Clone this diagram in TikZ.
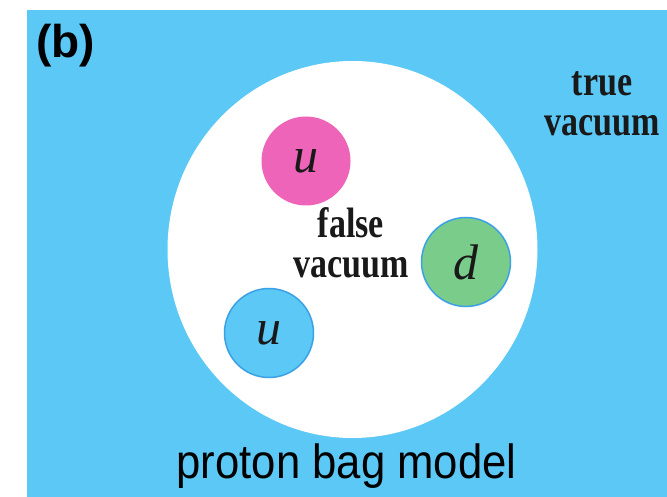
\documentclass[tikz,border=0pt]{standalone}
\usepackage{fontspec}
\setmainfont{Liberation Serif}
\setsansfont{Liberation Sans}
\usetikzlibrary{shapes.geometric}
\definecolor{bgblue}{RGB}{91,200,245}
\definecolor{qpink}{RGB}{238,100,185}
\definecolor{qgreen}{RGB}{122,204,138}
\definecolor{qedge}{RGB}{60,160,230}
\definecolor{ink}{RGB}{25,25,25}
\tikzset{
  quark/.style={circle, inner sep=0pt, minimum size=89pt, text=ink,
    font=\fontsize{50}{50}\selectfont\itshape},
  vaclabel/.style={anchor=base, inner sep=0pt, text=ink,
    font=\fontsize{34}{32}\selectfont\bfseries},
  sanslabel/.style={anchor=base, inner sep=0pt, text=black}
}
\begin{document}
\begin{tikzpicture}[x=1pt,y=-1pt]
\useasboundingbox (0,0) rectangle (667,497);
% true vacuum background
\fill[bgblue] (27,10) rectangle (667,497);
% the bag (false vacuum)
\node[ellipse, fill=white, inner sep=0pt, minimum width=370pt, minimum height=377pt] (bag) at (352.5,249.5) {};
% quarks
\node[quark, fill=qpink] (u1) at (306,161) {u\/};
\node[quark, fill=qgreen, draw=qedge, line width=1.5pt] (d1) at (466,262) {d\/};
\node[quark, fill=bgblue, draw=qedge, line width=1.5pt] (u2) at (269,333) {u\/};
% labels
\node[vaclabel] (falsevac) at (351,277) {\scalebox{1}[1.25]{\begin{tabular}[b]{@{}c@{}}false\\vacuum\end{tabular}}};
\node[vaclabel] (truevac) at (602,136) {\scalebox{1}[1.25]{\begin{tabular}[b]{@{}c@{}}true\\vacuum\end{tabular}}};
\node[sanslabel, font=\sffamily\bfseries\fontsize{46}{46}\selectfont] (panel) at (65.5,58) {(b)};
\node[sanslabel, font=\sffamily\fontsize{48}{48}\selectfont] (caption) at (346.5,478) {\scalebox{0.91}[1]{proton bag model}};
\end{tikzpicture}
\end{document}
